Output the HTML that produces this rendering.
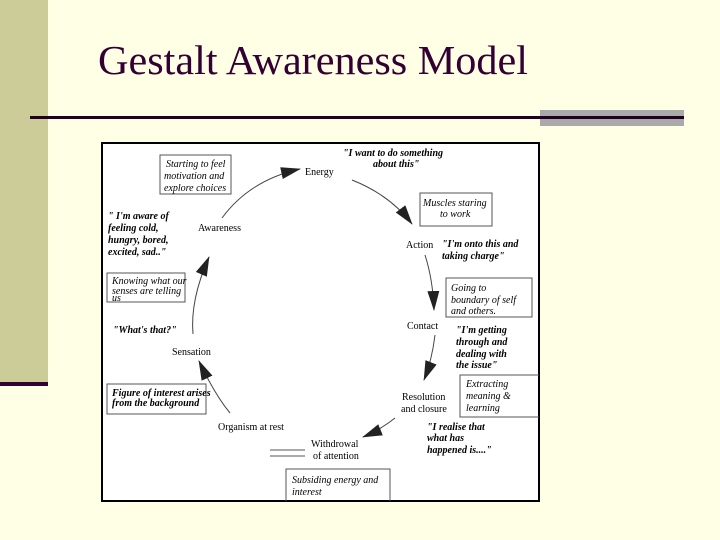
<!DOCTYPE html>
<html><head><style>
html,body{margin:0;padding:0;width:720px;height:540px;background:#FFFFE5;overflow:hidden}
svg{position:absolute;left:0;top:0}
.s{font-family:"Liberation Serif",serif;font-size:10px;fill:#000}
.i{font-family:"Liberation Serif",serif;font-style:italic;font-size:10px;fill:#000}
.q{font-family:"Liberation Serif",serif;font-style:italic;font-weight:bold;font-size:10px;fill:#000}
</style></head><body>
<svg width="720" height="540" viewBox="0 0 720 540">
<rect x="0" y="0" width="48" height="382" fill="#CCCC99"/>
<rect x="0" y="382" width="48" height="4" fill="#330033"/>
<text x="98" y="74" font-family="Liberation Serif,serif" font-size="41" textLength="430" lengthAdjust="spacingAndGlyphs" fill="#330033">Gestalt Awareness Model</text>
<rect x="540" y="110" width="144" height="16" fill="#AAAAAA"/>
<rect x="30" y="116" width="654" height="3" fill="#220022"/>
<rect x="102" y="143" width="437" height="358" fill="#fff" stroke="#000" stroke-width="2"/>
<defs>
<marker id="b" markerWidth="20" markerHeight="12" refX="19" refY="6" orient="auto" markerUnits="userSpaceOnUse"><path d="M0,0 L20,6 L0,12z" fill="#222"/></marker></defs>
<g fill="none" stroke="#444" stroke-width="1">
<path d="M222,218 Q250,180 300,169" marker-end="url(#b)"/>
<path d="M352,180 Q390,195 412,224" marker-end="url(#b)"/>
<path d="M425,255 Q433,280 434,310" marker-end="url(#b)"/>
<path d="M435,335 Q432,360 424,380" marker-end="url(#b)"/>
<path d="M395,418 Q380,430 363,437" marker-end="url(#b)"/>
<path d="M230,413 Q215,395 199,361" marker-end="url(#b)"/>
<path d="M193,334 Q190,300 209,257" marker-end="url(#b)"/>
</g>
<g stroke="#555" fill="none">
<rect x="160" y="155" width="71" height="39"/>
<rect x="420" y="193" width="72" height="33"/>
<rect x="446" y="278" width="86" height="39"/>
<path d="M539,375 L460,375 L460,417 L539,417"/>
<rect x="107" y="273" width="78" height="29"/>
<rect x="107" y="384" width="99" height="30"/>
<path d="M286,501 L286,469 L390,469 L390,501"/>
<path d="M270,450 L305,450 M270,456 L305,456"/>
</g>
<text class="i"><tspan x="166" y="167">Starting to feel</tspan><tspan x="164" y="179">motivation and</tspan><tspan x="164" y="191">explore choices</tspan></text>
<text class="s" x="305" y="175">Energy</text>
<text class="q"><tspan x="343" y="156">"I want to do something</tspan><tspan x="373" y="167">about this"</tspan></text>
<text class="i"><tspan x="423" y="206">Muscles staring</tspan><tspan x="440" y="217">to work</tspan></text>
<text class="s" x="406" y="248">Action</text>
<text class="q"><tspan x="442" y="247">"I'm onto this and</tspan><tspan x="442" y="259">taking charge"</tspan></text>
<text class="i"><tspan x="451" y="291">Going to</tspan><tspan x="451" y="303">boundary of self</tspan><tspan x="451" y="314">and others.</tspan></text>
<text class="s" x="407" y="329">Contact</text>
<text class="q"><tspan x="456" y="333">"I'm getting</tspan><tspan x="456" y="345">through and</tspan><tspan x="456" y="357">dealing with</tspan><tspan x="456" y="368">the issue"</tspan></text>
<text class="i"><tspan x="466" y="387">Extracting</tspan><tspan x="466" y="399">meaning &amp;</tspan><tspan x="466" y="411">learning</tspan></text>
<text class="s"><tspan x="402" y="400">Resolution</tspan><tspan x="401" y="412">and closure</tspan></text>
<text class="q"><tspan x="427" y="430">"I realise that</tspan><tspan x="427" y="441">what has</tspan><tspan x="427" y="453">happened is...."</tspan></text>
<text class="s" font-size="9"><tspan x="311" y="447">Withdrowal</tspan><tspan x="313" y="459">of attention</tspan></text>
<text class="i" font-size="9.5"><tspan x="292" y="483">Subsiding energy and</tspan><tspan x="292" y="495">interest</tspan></text>
<text class="s" x="218" y="430">Organism at rest</text>
<text class="i" font-size="8" font-weight="bold"><tspan x="112" y="396">Figure of interest arises</tspan><tspan x="112" y="406">from the background</tspan></text>
<text class="s" x="172" y="355">Sensation</text>
<text class="q" x="113" y="333">"What's that?"</text>
<text class="i" font-size="8"><tspan x="112" y="284">Knowing what our</tspan><tspan x="112" y="294">senses are telling</tspan><tspan x="112" y="301">us</tspan></text>
<text class="q"><tspan x="108" y="219">" I'm aware of</tspan><tspan x="108" y="231">feeling cold,</tspan><tspan x="108" y="243">hungry, bored,</tspan><tspan x="108" y="255">excited, sad.."</tspan></text>
<text class="s" x="198" y="231">Awareness</text>
</svg>
</body></html>
